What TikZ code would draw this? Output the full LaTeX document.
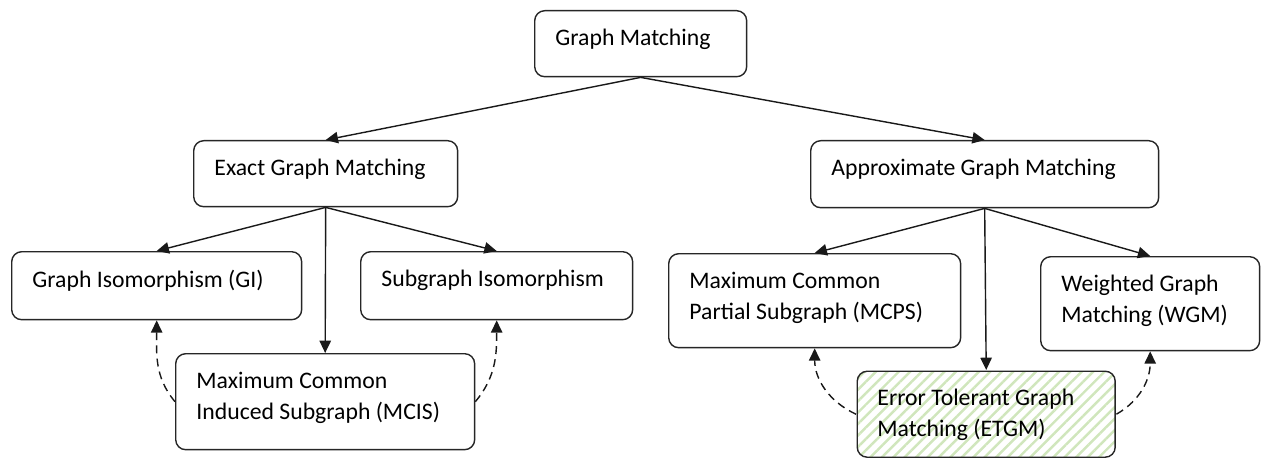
\documentclass[tikz,border=0pt]{standalone}
\usepackage{fontspec}
\setmainfont{Carlito}
\usetikzlibrary{arrows.meta,patterns.meta}

\definecolor{etgmgreen}{RGB}{208,230,188}
\tikzstyle{box}=[draw=black!85,line width=0.8pt,rounded corners=0.2cm,inner sep=0pt,anchor=north west]
\tikzstyle{txt}=[anchor=north west,align=left,inner xsep=12pt,inner ysep=10.5pt,font=\fontsize{13.5pt}{17.8pt}\selectfont]
\tikzstyle{edge}=[draw=black!90,line width=0.8pt,-{Triangle[length=7pt,width=6.5pt]}]
\tikzstyle{back}=[edge,dash pattern=on 4.5pt off 3pt]
\newcommand{\gmunit}{0.02cm}

\begin{document}
\begin{tikzpicture}[x=\gmunit, y=-\gmunit]
    \useasboundingbox (0,0) rectangle (1263,459);
    % boxes, placed by their top left corner
    \foreach \pos/\name/\w/\h/\txt in {
        {(534,10)/gm/4.24/1.32/{Graph Matching}},
        {(193,140)/exact/5.28/1.32/{Exact Graph Matching}},
        {(810,140)/approx/6.96/1.34/{Approximate Graph Matching}},
        {(11,251)/gi/5.80/1.36/{Graph Isomorphism (GI)}},
        {(360,251)/sub/5.44/1.36/{Subgraph Isomorphism}},
        {(175,353)/mcis/5.98/1.92/{Maximum Common\\Induced Subgraph (MCIS)}},
        {(668,253)/mcps/5.84/1.88/{Maximum Common\\Partial Subgraph (MCPS)}},
        {(1040,256)/wgm/4.38/1.88/{Weighted Graph\\Matching (WGM)}}}
        \node[box, minimum width=\w cm, minimum height=\h cm,
              label={[txt]north west:\txt}] (\name) at \pos {};
    \node[box, minimum width=5.16cm, minimum height=1.72cm,
          pattern={Lines[angle=45,distance=4.6pt,line width=1.4pt]}, pattern color=etgmgreen,
          label={[txt]north west:{Error Tolerant Graph\\Matching (ETGM)}}] (etgm) at (856,370) {};
    % tree edges
    \foreach \source/\dest in {gm/exact, gm/approx, exact/gi, exact/mcis, exact/sub,
                               approx/mcps, approx/etgm, approx/wgm}
        \path[edge] (\source.south) -- (\dest.north);
    % dashed links back up
    \foreach \source/\dest/\bend in {mcis.west/gi/130, mcis.east/sub/50,
                                     etgm.west/mcps/155, etgm.east/wgm/30}
        \path[back] (\source) to[out=\bend, in=-90] (\dest.south);
\end{tikzpicture}
\end{document}
